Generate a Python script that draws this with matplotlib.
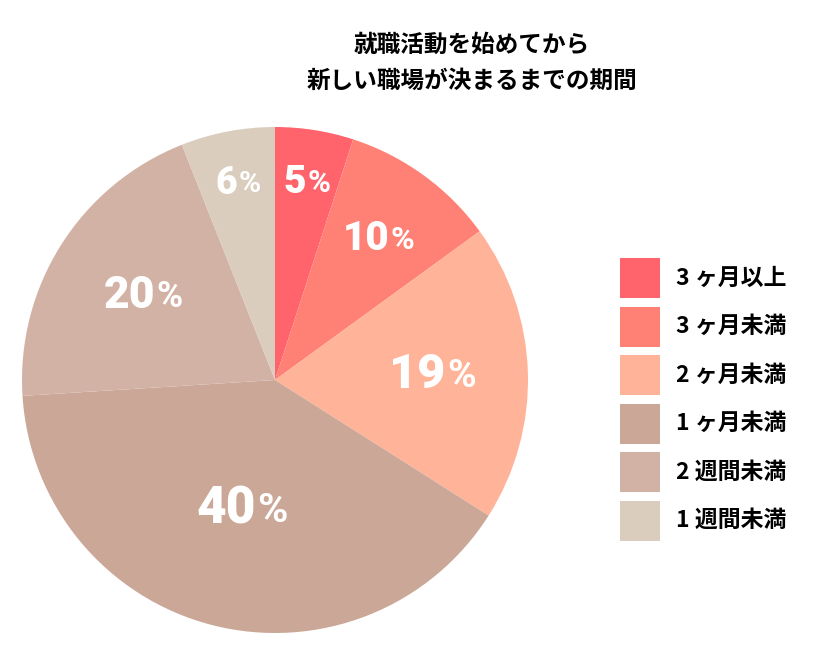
import numpy as np
import matplotlib
matplotlib.use('Agg')
import matplotlib.pyplot as plt
from matplotlib.patches import Rectangle
from matplotlib.transforms import ScaledTranslation

plt.rcParams['font.family'] = ['Noto Sans CJK JP', 'DejaVu Sans']

# データ
labels = ['3 ヶ月以上', '3 ヶ月未満', '2 ヶ月未満', '1 ヶ月未満', '2 週間未満', '1 週間未満']
values = [5, 10, 19, 40, 20, 6]
colors = ['#FF636C', '#FF8075', '#FFB399', '#CBA797', '#D3B2A6', '#DACDBD']
title = '就職活動を始めてから\n新しい職場が決まるまでの期間'

W, H = 820, 649
fig = plt.figure(figsize=(W / 100, H / 100), dpi=100)

# 円グラフ
cx, cy, r = 275, 380, 253
ax = fig.add_axes([(cx - r) / W, 1 - (cy + r) / H, 2 * r / W, 2 * r / H])
wedges, _ = ax.pie(values, colors=colors, startangle=90, counterclock=False,
                   wedgeprops=dict(linewidth=0), radius=1.0)
ax.set_xlim(-1, 1)
ax.set_ylim(-1, 1)
ax.set_aspect('equal')
ax.axis('off')

# パーセント表示（数字 + 小さめの%）
dist = [0.79, 0.69, 0.62, 0.53, 0.62, 0.79]
numsize = [28, 29, 35, 37, 32, 27]
fig.canvas.draw()
rend = fig.canvas.get_renderer()
for w, v, d, fs in zip(wedges, values, dist, numsize):
    ang = np.deg2rad((w.theta1 + w.theta2) / 2)
    x, y = d * np.cos(ang), d * np.sin(ang)
    t1 = ax.text(x, y, str(v), ha='right', va='center', color='white',
                 fontsize=fs, fontweight='black', family='Roboto')
    t2 = ax.annotate('%', (x, y), ha='left', va='center', color='white',
                     fontsize=fs * 0.8, fontweight='bold', family='Roboto',
                     xytext=(1, -fs * 0.02), textcoords='offset points')
    w1 = t1.get_window_extent(rend).width
    w2 = t2.get_window_extent(rend).width
    shift = (w1 - w2) / 2 * 72 / 100
    t1.set_transform(ax.transData + ScaledTranslation(shift / 72, 0, fig.dpi_scale_trans))
    t2.set_position((1 + shift, -fs * 0.02))

# タイトル
for i, line in enumerate(title.split('\n')):
    fig.text(472 / W, 1 - (45 + i * 36) / H, line, ha='center', va='center',
             fontsize=17, fontweight='bold')

# 凡例
lax = fig.add_axes([0, 0, 1, 1])
lax.set_xlim(0, W)
lax.set_ylim(H, 0)
lax.axis('off')
for i, (lab, c) in enumerate(zip(labels, colors)):
    y0 = 258 + i * 48.5
    lax.add_patch(Rectangle((620, y0), 40, 40, color=c, lw=0))
    lax.text(676, y0 + 20, lab, ha='left', va='center', fontsize=16.5,
             fontweight='bold', family=['Noto Sans CJK JP', 'DejaVu Sans'])

fig.savefig('out.png', dpi=100, facecolor='white')
